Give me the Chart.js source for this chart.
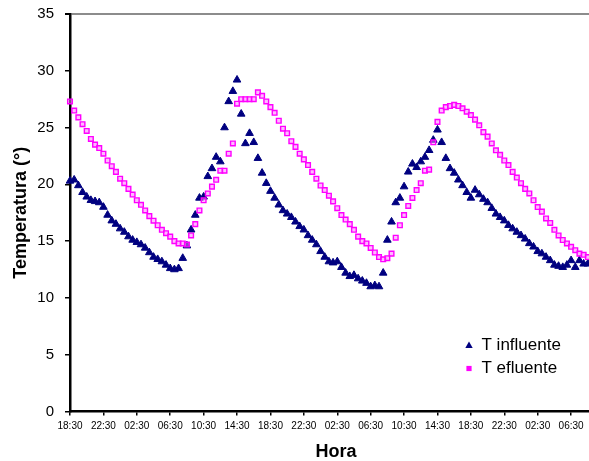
<!DOCTYPE html>
<html>
<head>
<meta charset="utf-8">
<script src="https://cdn.jsdelivr.net/npm/chart.js@4/dist/chart.umd.min.js"></script>
<style>
html,body{margin:0;padding:0;background:#fff;overflow:hidden;width:589px;height:461px;}
canvas{display:block;}
</style>
</head>
<body>
<canvas id="c" width="602" height="461"></canvas>
<script>
// Readings every 30 min starting at 18:30
const tickLabels = ["18:30","22:30","02:30","06:30","10:30","14:30","18:30","22:30","02:30","06:30","10:30","14:30","18:30","22:30","02:30","06:30"];
const tInfluente = [
20.3,20.4,19.9,19.3,18.9,18.6,18.5,18.4,18.0,17.3,
16.8,16.5,16.1,15.8,15.4,15.1,14.9,14.7,14.4,14.0,
13.6,13.4,13.2,12.9,12.6,12.5,12.6,13.5,14.6,16.0,
17.3,18.8,18.9,20.7,21.4,22.4,22.0,25.0,27.3,28.2,
29.2,26.2,23.6,24.5,23.7,22.3,21.0,20.1,19.4,18.8,
18.2,17.7,17.4,17.1,16.7,16.3,16.0,15.5,15.1,14.7,
14.1,13.6,13.2,13.1,13.2,12.7,12.2,11.9,12.0,11.7,
11.5,11.3,11.0,11.1,11.0,12.2,15.1,16.7,18.4,18.8,
19.8,21.1,21.8,21.5,22.0,22.4,23.0,23.9,24.8,23.7,
22.3,21.4,21.0,20.4,19.9,19.3,18.8,19.5,19.1,18.7,
18.4,17.9,17.4,17.1,16.8,16.4,16.1,15.8,15.5,15.2,
14.8,14.5,14.1,13.9,13.6,13.3,12.9,12.8,12.7,12.9,
13.3,12.7,13.3,13.0,13.0
];
const tEfluente = [
27.3,26.5,25.9,25.3,24.7,24.0,23.5,23.2,22.7,22.1,
21.6,21.1,20.5,20.1,19.6,19.1,18.6,18.2,17.7,17.2,
16.8,16.4,16.0,15.7,15.4,15.0,14.8,14.8,14.7,15.5,
16.5,17.7,18.6,19.2,19.8,20.4,21.2,21.2,22.7,23.6,
27.1,27.5,27.5,27.5,27.5,28.1,27.8,27.3,26.8,26.3,
25.6,24.9,24.5,23.8,23.3,22.7,22.2,21.7,21.1,20.5,
19.9,19.5,19.0,18.5,17.9,17.3,16.9,16.5,16.0,15.4,
15.0,14.8,14.4,14.0,13.6,13.4,13.5,13.9,15.3,16.4,
17.3,18.1,18.8,19.5,20.1,21.2,21.3,23.7,25.5,26.5,
26.8,26.9,27.0,26.9,26.7,26.4,26.1,25.7,25.2,24.6,
24.2,23.6,23.0,22.6,22.1,21.7,21.1,20.6,20.1,19.6,
19.2,18.6,18.0,17.6,17.0,16.6,16.0,15.5,15.1,14.8,
14.5,14.2,13.9,13.8,13.6
];
const seriesLabels = ["T influente","T efluente"];
const yMax = 35;

const FONT = "'Liberation Sans', Arial, sans-serif";
const toPoints = arr => arr.map((v, i) => ({x: i, y: v}));

const insideLegend = {
  id: 'insideLegend',
  afterDraw(chart) {
    const ctx = chart.ctx;
    const ca = chart.chartArea;
    const x0 = ca.right - 133;
    const y0 = ca.bottom - 66;
    ctx.save();
    ctx.font = "17px " + FONT;
    ctx.textBaseline = 'middle';
    ctx.textAlign = 'left';
    chart.data.datasets.forEach((ds, k) => {
      const y = y0 + k * 23;
      ctx.beginPath();
      if (ds.pointStyle === 'triangle') {
        ctx.moveTo(x0, y - 4);
        ctx.lineTo(x0 + 3.7, y + 2.6);
        ctx.lineTo(x0 - 3.7, y + 2.6);
        ctx.closePath();
        ctx.fillStyle = ds.pointBackgroundColor;
        ctx.fill();
      } else {
        ctx.rect(x0 - 2.6, y - 2.6, 5.2, 5.2);
        ctx.fillStyle = ds.pointBorderColor;
        ctx.fill();
      }
      ctx.fillStyle = '#000';
      ctx.fillText(ds.label, x0 + 12.5, y);
    });
    ctx.restore();
  }
};

new Chart(document.getElementById('c'), {
  type: 'line',
  data: {
    datasets: [
      {
        label: seriesLabels[0],
        data: toPoints(tInfluente),
        showLine: false,
        pointStyle: 'triangle',
        pointRadius: 4.4,
        pointBorderWidth: 1,
        pointBackgroundColor: '#000080',
        pointBorderColor: '#000080',
        order: 1,
        clip: false
      },
      {
        label: seriesLabels[1],
        data: toPoints(tEfluente),
        showLine: false,
        pointStyle: 'rect',
        pointRadius: 3.3,
        pointBorderWidth: 1.4,
        pointBackgroundColor: 'rgba(255,130,255,0.55)',
        pointBorderColor: '#ff00ff',
        order: 0,
        clip: false
      }
    ]
  },
  options: {
    responsive: false,
    animation: false,
    devicePixelRatio: 1,
    layout: {autoPadding: false, padding: {top: 14, right: 0, left: 0, bottom: 0}},
    plugins: {legend: {display: false}, tooltip: {enabled: false}},
    scales: {
      x: {
        type: 'linear',
        position: 'bottom',
        min: 0,
        max: 127.4,
        afterBuildTicks: s => { s.ticks = tickLabels.map((_, k) => ({value: k * 8})); },
        afterFit: s => { s.height = 49.5; s.paddingLeft = 0; s.paddingRight = 0; },
        ticks: {
          callback: (v, idx) => tickLabels[idx],
          autoSkip: false,
          maxRotation: 0,
          font: {family: FONT, size: 10},
          color: '#000',
          padding: 5
        },
        grid: {drawOnChartArea: false, drawTicks: true, tickLength: 4, color: '#000', lineWidth: 1.5},
        border: {color: '#000', width: 2.5},
        title: {display: true, text: 'Hora', color: '#000', font: {family: FONT, size: 18, weight: 'bold', lineHeight: 1}, padding: {top: 0, bottom: 0}}
      },
      y: {
        type: 'linear',
        min: 0,
        max: yMax,
        afterFit: s => { s.width = 70; s.paddingTop = 0; s.paddingBottom = 0; },
        ticks: {stepSize: 5, font: {family: FONT, size: 15}, color: '#000', padding: 11},
        grid: {
          drawOnChartArea: true,
          drawTicks: true,
          tickLength: 5,
          color: c => (c.tick && c.tick.value === yMax) ? '#8c8c8c' : 'rgba(0,0,0,0)',
          lineWidth: c => (c.tick && c.tick.value === yMax) ? 2 : 1.5,
          tickColor: '#000'
        },
        border: {color: '#000', width: 2.5},
        title: {display: true, text: 'Temperatura (°)', color: '#000', font: {family: FONT, size: 18, weight: 'bold', lineHeight: 1}, padding: {top: 12, bottom: 0}}
      }
    }
  },
  plugins: [insideLegend]
});
</script>
</body>
</html>
